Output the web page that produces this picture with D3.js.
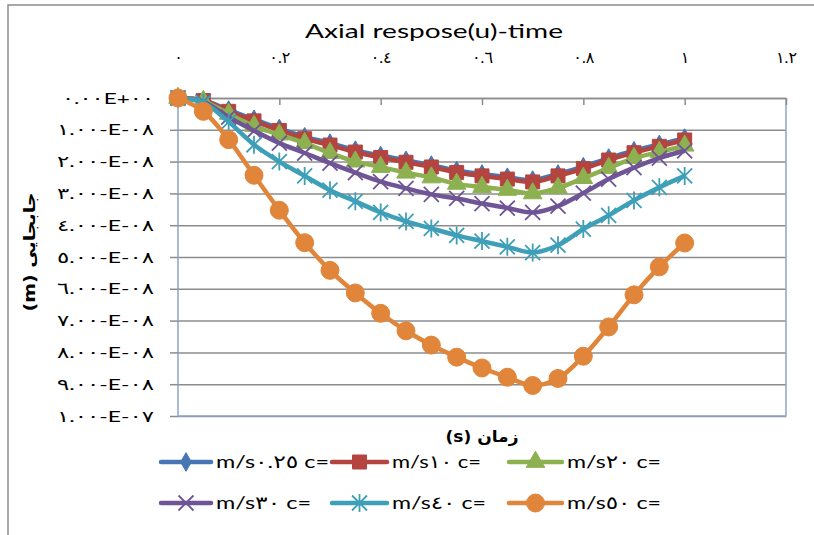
<!DOCTYPE html>
<html>
<head>
<meta charset="utf-8">
<script src="https://cdn.jsdelivr.net/npm/d3@7"></script>
<style>
  body { margin: 0; background: #fff; }
  svg { display: block; }
  text { font-family: Lato, "DejaVu Sans", sans-serif; fill: #000; }
</style>
</head>
<body>
<svg id="chart" width="814" height="535"></svg>
<script>
// Time (s)
const time = [0, 0.05, 0.1, 0.15, 0.2, 0.25, 0.3, 0.35, 0.4, 0.45, 0.5,
              0.55, 0.6, 0.65, 0.7, 0.75, 0.8, 0.85, 0.9, 0.95, 1.0];

// Axial displacement u, in units of 1e-8 m, for each wave speed c
const u_c025 = [0, -0.07, -0.38, -0.67, -0.96, -1.22, -1.42, -1.64, -1.81, -1.96, -2.11,
                -2.28, -2.39, -2.49, -2.58, -2.39, -2.16, -1.89, -1.66, -1.46, -1.26];
const u_c10  = [0, -0.08, -0.42, -0.72, -1.02, -1.28, -1.48, -1.70, -1.87, -2.02, -2.17,
                -2.34, -2.45, -2.55, -2.64, -2.45, -2.22, -1.95, -1.72, -1.52, -1.32];
const u_c20  = [0, -0.10, -0.50, -0.88, -1.15, -1.42, -1.73, -2.00, -2.17, -2.35, -2.50,
                -2.70, -2.80, -2.89, -3.00, -2.83, -2.52, -2.20, -1.89, -1.70, -1.50];
const u_c30  = [0, -0.12, -0.60, -1.03, -1.42, -1.73, -2.05, -2.35, -2.63, -2.84, -3.03,
                -3.16, -3.32, -3.46, -3.60, -3.40, -2.99, -2.55, -2.19, -1.89, -1.66];
const u_c40  = [0, -0.15, -0.75, -1.47, -2.00, -2.45, -2.90, -3.25, -3.60, -3.88, -4.10,
                -4.32, -4.50, -4.68, -4.86, -4.63, -4.12, -3.69, -3.22, -2.81, -2.45];
const u_c50  = [0, -0.42, -1.31, -2.43, -3.53, -4.55, -5.42, -6.13, -6.77, -7.32, -7.77,
                -8.15, -8.49, -8.78, -9.04, -8.82, -8.12, -7.20, -6.19, -5.31, -4.56];

const seriesLabels = ["m/s٠.٢٥ c=", "m/s١٠ c=", "m/s٢٠ c=", "m/s٣٠ c=", "m/s٤٠ c=", "m/s٥٠ c="];

// Axis ticks
const xTicks = [0, 0.2, 0.4, 0.6, 0.8, 1.0, 1.2];
const xTickLabels = ["٠", "٠.٢", "٠.٤", "٠.٦", "٠.٨", "١", "١.٢"];
const yTicks = [0, -1, -2, -3, -4, -5, -6, -7, -8, -9, -10];
const yTickLabels = ["٠.٠٠E+٠٠", "١.٠٠-E-٠٨", "٢.٠٠-E-٠٨", "٣.٠٠-E-٠٨", "٤.٠٠-E-٠٨",
                     "٥.٠٠-E-٠٨", "٦.٠٠-E-٠٨", "٧.٠٠-E-٠٨", "٨.٠٠-E-٠٨", "٩.٠٠-E-٠٨",
                     "١.٠٠-E-٠٧"];

const titleText = "Axial respose(u)-time";
const xTitleText = "(s) زمان";
const yTitleText = "(m) جابجایی";

// ---- drawing ----
const svg = d3.select("#chart");
const plot = { left: 178, right: 786, top: 98, bottom: 416 };

const x = d3.scaleLinear().domain([0, 1.2]).range([plot.left, plot.right]);
const y = d3.scaleLinear().domain([0, -10]).range([plot.top, plot.bottom]);

// outer chart frame
svg.append("path")
  .attr("d", "M8,540 L8,5 L820,5")
  .attr("fill", "none").attr("stroke", "#8c8c8c").attr("stroke-width", 1.5);

// title
svg.append("text")
  .attr("x", 434).attr("y", 38)
  .attr("text-anchor", "middle")
  .attr("font-size", 20)
  .attr("textLength", 258).attr("lengthAdjust", "spacingAndGlyphs")
  .text(titleText);

// horizontal gridlines
svg.append("g")
  .attr("transform", `translate(${plot.left},0)`)
  .call(d3.axisLeft(y).tickValues(yTicks).tickSize(-(plot.right - plot.left)).tickFormat(""))
  .call(g => g.select(".domain").remove())
  .call(g => g.selectAll(".tick line").attr("stroke", "#8c8c8c").attr("stroke-width", 1.5));

// plot-area border (left, bottom, right)
svg.append("path")
  .attr("d", `M${plot.left},${plot.top} L${plot.left},${plot.bottom} L${plot.right},${plot.bottom} L${plot.right},${plot.top}`)
  .attr("fill", "none").attr("stroke", "#8fa5c8").attr("stroke-width", 1.5);

// left axis: ticks and labels
const yAxisG = svg.append("g")
  .attr("transform", `translate(${plot.left},0)`)
  .call(d3.axisLeft(y).tickValues(yTicks).tickSizeInner(8).tickSizeOuter(0).tickPadding(16)
        .tickFormat((d, i) => yTickLabels[i]));
yAxisG.select(".domain").remove();
yAxisG.selectAll(".tick line").attr("stroke", "#8c8c8c").attr("stroke-width", 1.5);
yAxisG.selectAll(".tick text")
  .attr("font-size", 16)
  .attr("fill", "#000")
  .style("font-family", 'Lato, "DejaVu Sans", sans-serif')
  .style("unicode-bidi", "bidi-override").style("direction", "ltr")
  .attr("textLength", (d, i) => i === 0 ? 92 : 97)
  .attr("lengthAdjust", "spacingAndGlyphs");

// top axis: line, inward ticks, labels above
const xAxisG = svg.append("g")
  .attr("transform", `translate(0,${plot.top})`)
  .call(d3.axisTop(x).tickValues(xTicks).tickSizeInner(-7).tickSizeOuter(0).tickPadding(35)
        .tickFormat((d, i) => xTickLabels[i]));
xAxisG.select(".domain").attr("stroke", "#8c8c8c").attr("stroke-width", 1.5);
xAxisG.selectAll(".tick line").attr("stroke", "#8c8c8c").attr("stroke-width", 1.5);
xAxisG.selectAll(".tick text")
  .attr("font-size", 16)
  .attr("fill", "#000")
  .style("font-family", 'Lato, "DejaVu Sans", sans-serif')
  .style("unicode-bidi", "bidi-override").style("direction", "ltr");

// marker shapes
function markerPath(kind, s) {
  switch (kind) {
    case "diamond": return d3.symbol(d3.symbolDiamond, 100)();
    case "square":  return d3.symbol(d3.symbolSquare, 196)();
    case "triangle":return d3.symbol(d3.symbolTriangle, 150)();
    case "circle":  return d3.symbol(d3.symbolCircle, 254)();
    case "x":       return `M${-s},${-s}L${s},${s}M${-s},${s}L${s},${-s}`;
    case "star":    return `M${-s},${-s}L${s},${s}M${-s},${s}L${s},${-s}M0,${-s * 1.2}L0,${s * 1.2}`;
  }
}

const series = [
  { values: u_c025, color: "#4677b4", marker: "diamond", size: 7 },
  { values: u_c10,  color: "#b3443f", marker: "square",  size: 7 },
  { values: u_c20,  color: "#8db050", marker: "triangle",size: 7 },
  { values: u_c30,  color: "#6f5595", marker: "x",       size: 7.5 },
  { values: u_c40,  color: "#3e9fb8", marker: "star",    size: 7.5 },
  { values: u_c50,  color: "#e0853a", marker: "circle",  size: 9 }
];

function drawMarker(g, s) {
  const open = s.marker === "x" || s.marker === "star";
  g.append("path")
    .attr("d", markerPath(s.marker, s.size))
    .attr("fill", open ? "none" : s.color)
    .attr("stroke", s.color)
    .attr("stroke-width", open ? 1.8 : 1);
}

const line = d3.line()
  .x((d, i) => x(time[i]))
  .y(d => y(d))
  .curve(d3.curveCatmullRom.alpha(0.5));

series.forEach(s => {
  const g = svg.append("g");
  g.append("path")
    .datum(s.values)
    .attr("d", line)
    .attr("fill", "none")
    .attr("stroke", s.color)
    .attr("stroke-width", 4.5)
    .attr("stroke-linejoin", "round");
  s.values.forEach((v, i) => {
    const m = g.append("g").attr("transform", `translate(${x(time[i])},${y(v)})`);
    drawMarker(m, s);
  });
});

// axis titles
svg.append("text")
  .attr("x", 482).attr("y", 442)
  .attr("text-anchor", "middle")
  .attr("font-size", 16).attr("font-weight", "bold")
  .style("font-family", '"DejaVu Sans", sans-serif')
  .attr("textLength", 73).attr("lengthAdjust", "spacingAndGlyphs")
  .text(xTitleText);

svg.append("text")
  .attr("transform", "translate(35,252) rotate(-90)")
  .attr("text-anchor", "middle")
  .attr("font-size", 16).attr("font-weight", "bold")
  .style("font-family", '"DejaVu Sans", sans-serif')
  .attr("textLength", 119).attr("lengthAdjust", "spacingAndGlyphs")
  .text(yTitleText);

// legend
const legendCols = [{ x1: 161, x2: 211, tx: 216 }, { x1: 332, x2: 387, tx: 392 }, { x1: 509, x2: 562, tx: 567 }];
const legendRows = [462, 503];
const legendWidths = [113, 89, 94, 95, 94, 94];

series.forEach((s, i) => {
  const col = legendCols[i % 3];
  const ry = legendRows[Math.floor(i / 3)];
  const g = svg.append("g");
  g.append("line")
    .attr("x1", col.x1).attr("x2", col.x2).attr("y1", ry).attr("y2", ry)
    .attr("stroke", s.color).attr("stroke-width", 4.5).attr("stroke-linecap", "round");
  const m = g.append("g").attr("transform", `translate(${(col.x1 + col.x2) / 2},${ry})`);
  drawMarker(m, s);
  g.append("text")
    .attr("x", col.tx).attr("y", ry + 6)
    .attr("font-size", 18)
    .style("unicode-bidi", "bidi-override").style("direction", "ltr")
    .attr("textLength", legendWidths[i]).attr("lengthAdjust", "spacingAndGlyphs")
    .text(seriesLabels[i]);
});
</script>
</body>
</html>
